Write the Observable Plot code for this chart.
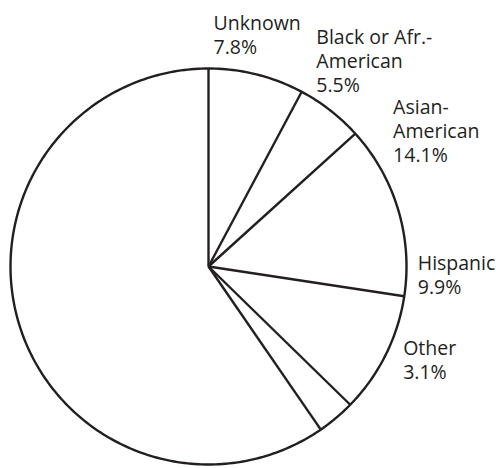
<!DOCTYPE html>
<html>
<head>
<meta charset="utf-8">
<script src="https://cdn.jsdelivr.net/npm/d3@7"></script>
<script src="https://cdn.jsdelivr.net/npm/@observablehq/plot@0.6"></script>
<style>
  html, body { margin: 0; padding: 0; background: #fff; }
  #chart { width: 496px; height: 468px; }
</style>
</head>
<body>
<div id="chart"></div>
<script>
// ---- data ----
const categories = ["Unknown", "Black or Afr.-\nAmerican", "Asian-\nAmerican", "Hispanic", "Other", "White"];
const shares = [7.8, 5.5, 14.1, 9.9, 3.1, 59.6];
const shareLabels = ["7.8%", "5.5%", "14.1%", "9.9%", "3.1%", ""];
const showLabel = [true, true, true, true, true, false];

// ---- layout (label nudges in pixels from the slice's mid-angle on the rim) ----
const labelDx = [-43, -14, -5, 32, 67, 0];
const labelDy = [-62, -84, -113, -102, -80, 0];

const ink = "#231f20";

const rows = categories.map((c, i) => ({
  category: c, share: shares[i], label: shareLabels[i], show: showLabel[i],
  dx: labelDx[i], dy: labelDy[i]
}));

const arcs = d3.pie().sort(null).value(d => d.share)(rows);

// slice boundaries (start angle of each slice), angle 0 = 12 o'clock, clockwise
const boundaries = arcs.map(a => ({x: Math.sin(a.startAngle), y: Math.cos(a.startAngle)}));

// rim of the pie
const rim = d3.range(0, 361).map(deg => {
  const t = deg * Math.PI / 180;
  return {x: Math.sin(t), y: Math.cos(t)};
});

const labels = arcs.filter(a => a.data.show).map(a => {
  const m = (a.startAngle + a.endAngle) / 2;
  return {
    x: Math.sin(m), y: Math.cos(m),
    text: a.data.category + "\n" + a.data.label,
    dx: a.data.dx, dy: a.data.dy
  };
});

const chart = Plot.plot({
  width: 496,
  height: 468,
  marginLeft: 10,
  marginRight: 90,
  marginTop: 68,
  marginBottom: 4,
  x: {domain: [-1, 1], axis: null},
  y: {domain: [-1, 1], axis: null},
  style: {fontFamily: "'Open Sans', sans-serif", background: "#fff"},
  marks: [
    Plot.line(rim, {x: "x", y: "y", stroke: ink, strokeWidth: 2.4}),
    Plot.link(boundaries, {x1: 0, y1: 0, x2: "x", y2: "y", stroke: ink, strokeWidth: 2.4}),
    ...labels.map(l => Plot.text([l], {
      x: "x", y: "y", text: "text",
      dx: l.dx, dy: l.dy,
      textAnchor: "start", lineAnchor: "top",
      fontSize: 19.5, lineHeight: 1.24, fill: ink
    }))
  ]
});

document.getElementById("chart").appendChild(chart);
</script>
</body>
</html>
